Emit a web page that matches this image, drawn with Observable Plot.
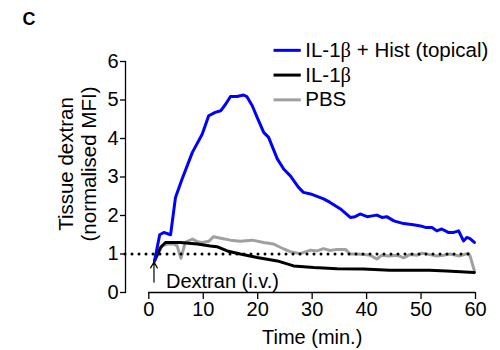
<!DOCTYPE html>
<html><head><meta charset="utf-8">
<script src="https://cdn.jsdelivr.net/npm/d3@7"></script>
<script src="https://cdn.jsdelivr.net/npm/@observablehq/plot@0.6"></script>
<style>body{margin:0;background:#fff} svg{display:block}</style>
</head><body><div id="chart"></div>
<script>
// ---- data ----
const histTime  = [1.05, 2.0, 2.75, 4.0, 4.9, 6.1, 8.0, 9.8, 11.0, 12.2, 13.2, 14.1, 15.0, 16.2, 17.4, 18.0, 19.0, 19.9, 21.1, 22.0, 23.6, 24.8, 26.0, 27.5, 28.4, 29.7, 32.1, 33.3, 35.2, 37.0, 37.9, 38.8, 40.1, 41.0, 41.9, 42.8, 43.7, 45.0, 46.8, 48.6, 49.9, 50.8, 52.0, 52.9, 53.8, 55.0, 56.0, 56.9, 57.8, 58.4, 59.0, 59.8];
const histValue = [0.82, 1.50, 1.56, 1.50, 2.47, 2.94, 3.64, 4.11, 4.59, 4.68, 4.72, 4.89, 5.09, 5.09, 5.13, 5.09, 4.85, 4.55, 4.16, 4.03, 3.47, 3.20, 3.03, 2.73, 2.60, 2.56, 2.43, 2.34, 2.17, 1.95, 1.97, 2.04, 1.97, 1.99, 2.01, 1.95, 1.97, 1.86, 1.79, 1.76, 1.73, 1.69, 1.69, 1.60, 1.65, 1.56, 1.56, 1.60, 1.34, 1.43, 1.40, 1.30];

const il1bTime  = [1.05, 2.15, 3.06, 5.8, 8.9, 11.3, 12.5, 14.4, 16.8, 19.9, 23.6, 26.6, 30.3, 34.6, 39.4, 44.3, 48.6, 51.5, 54.7, 59.8];
const il1bValue = [0.82, 1.17, 1.30, 1.30, 1.26, 1.21, 1.19, 1.08, 1.00, 0.91, 0.82, 0.69, 0.65, 0.62, 0.61, 0.58, 0.58, 0.58, 0.56, 0.52];

const pbsTime  = [1.05, 2.45, 3.4, 4.6, 5.2, 5.9, 6.7, 8.0, 8.9, 9.8, 11.0, 11.9, 13.2, 15.0, 16.8, 19.0, 21.1, 22.9, 24.8, 26.0, 27.8, 29.7, 30.9, 32.1, 33.3, 34.6, 36.1, 37.0, 38.2, 39.4, 40.6, 41.9, 42.8, 44.0, 45.6, 46.8, 48.0, 49.3, 50.2, 51.4, 52.9, 54.1, 55.3, 57.1, 58.7, 59.0, 59.8];
const pbsValue = [0.82, 1.21, 1.26, 1.26, 1.21, 0.89, 1.30, 1.39, 1.32, 1.30, 1.33, 1.45, 1.41, 1.36, 1.33, 1.36, 1.30, 1.26, 1.13, 1.06, 1.01, 1.10, 1.08, 1.14, 1.09, 1.12, 1.12, 1.00, 1.00, 0.99, 0.97, 0.87, 0.97, 0.95, 0.97, 0.90, 0.99, 0.97, 1.02, 0.99, 0.95, 0.97, 1.00, 0.95, 1.02, 0.95, 0.56];

const seriesNames  = ["IL-1β + Hist (topical)", "IL-1β", "PBS"];
const seriesColors = ["#0000ff", "#000000", "#a0a0a0"];

const xTicks = [0, 10, 20, 30, 40, 50, 60];
const yTicks = [0, 1, 2, 3, 4, 5, 6];
const baseline = [1];
const injection = [{t: 0.95, yFrom: 0.27, yTo: 0.79, label: "Dextran (i.v.)"}];

const xLabel = "Time (min.)";
const yLabel = "Tissue dextran\n(normalised MFI)";
const panelLabel = "C";

// ---- build tables ----
const toRows = (ts, vs) => ts.map((t, i) => ({t, v: vs[i]}));
const hist = toRows(histTime, histValue);
const il1b = toRows(il1bTime, il1bValue);
const pbs  = toRows(pbsTime, pbsValue);
const legend = seriesNames.map((name, i) => ({name, color: seriesColors[i]}));
const xMid = (xTicks[0] + xTicks[xTicks.length - 1]) / 2;

const font = "'Liberation Sans', Arial, Helvetica, sans-serif";

const chart = Plot.plot({
  width: 500,
  height: 350,
  marginLeft: 125,
  marginRight: 25,
  marginTop: 61,
  marginBottom: 58,
  x: {domain: [-4.28, 60]},
  y: {domain: [0, 6]},
  color: {type: "identity"},
  style: {fontFamily: font, fontSize: "20px", background: "white", color: "black"},
  marks: [
    Plot.frame({anchor: "left", strokeWidth: 1.3}),
    Plot.ruleY([0], {x1: xTicks[0], x2: xTicks[xTicks.length - 1], strokeWidth: 1.3}),
    Plot.axisY({ticks: yTicks, tickSize: 5, tickPadding: 2, label: null, fontSize: 20, strokeWidth: 1.3, tickFormat: d => String(d)}),
    Plot.axisX({ticks: xTicks, tickSize: 7, tickPadding: 2, label: null, fontSize: 20, strokeWidth: 1.3, tickFormat: d => String(d)}),
    Plot.line(pbs,  {x: "t", y: "v", stroke: seriesColors[2], strokeWidth: 3}),
    Plot.line(il1b, {x: "t", y: "v", stroke: seriesColors[1], strokeWidth: 3}),
    Plot.line(hist, {x: "t", y: "v", stroke: seriesColors[0], strokeWidth: 3}),
    Plot.ruleY(baseline, {strokeWidth: 3, strokeDasharray: "0,7", strokeLinecap: "round"}),
    Plot.arrow(injection, {x1: "t", x2: "t", y1: "yFrom", y2: "yTo", headLength: 9, strokeWidth: 1.2, inset: 0}),
    Plot.text(injection, {x: "t", y: "yFrom", text: "label", dx: 12, dy: -1, textAnchor: "start", fontSize: 20}),
    // legend
    Plot.ruleY(legend, {y: (d, i) => 6.29 - i * 0.643, x1: 23.0, x2: 28.0, stroke: "color", strokeWidth: 3}),
    Plot.text(legend, {y: (d, i) => 6.29 - i * 0.643, x: 28.0, dx: 4, text: "name", textAnchor: "start", fontSize: 20.5}),
    // axis titles
    Plot.text([xLabel], {x: xMid, frameAnchor: "bottom", textAnchor: "middle", lineAnchor: "middle", dy: 45, fontSize: 20}),
    Plot.text([yLabel], {frameAnchor: "left", textAnchor: "middle", lineAnchor: "middle", rotate: -90, dx: -48, dy: -13, fontSize: 20.5, lineHeight: 1.12}),
    Plot.text([panelLabel], {frameAnchor: "top-left", textAnchor: "start", lineAnchor: "middle", dx: -103, dy: -42, fontSize: 18, fontWeight: "bold"})
  ]
});

// render β in a serif (symbol-like) face as in the reference
d3.select(chart).selectAll("text, tspan").each(function () {
  const el = this;
  const nodes = Array.from(el.childNodes).filter(n => n.nodeType === 3 && n.nodeValue.includes("β"));
  nodes.forEach(n => {
    const parts = n.nodeValue.split("β");
    const frag = document.createDocumentFragment();
    parts.forEach((p, k) => {
      if (k > 0) {
        const ts = document.createElementNS("http://www.w3.org/2000/svg", "tspan");
        ts.setAttribute("font-family", "'Liberation Serif', 'DejaVu Serif', serif");
        ts.textContent = "β";
        frag.appendChild(ts);
      }
      if (p) frag.appendChild(document.createTextNode(p));
    });
    el.replaceChild(frag, n);
  });
});

document.getElementById("chart").appendChild(chart);
</script></body></html>
